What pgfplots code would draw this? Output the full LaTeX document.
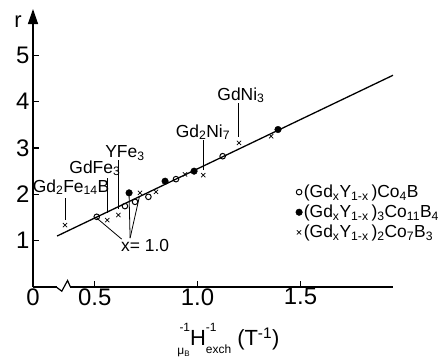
\documentclass[border=0pt]{standalone}
\usepackage{fontspec}
\setmainfont{Liberation Sans}
\usepackage{pgfplots}
\pgfplotsset{compat=1.18}
\usetikzlibrary{arrows.meta}
\newcommand\lbl{\fontsize{17.5}{19}\selectfont}
\newcommand\sm{\fontsize{12}{13}\selectfont}
\begin{document}
\begin{tikzpicture}
\begin{axis}[
  scale only axis, width=360bp, height=278bp,
  xmin=0.2, xmax=1.95, ymin=0, ymax=6,
  axis x line=bottom, axis y line=left,
  x axis line style={-, line width=1.4pt},
  y axis line style={-{Triangle[width=10bp,length=15bp]}, line width=1.4pt},
  xtick={0.2,0.5,1.0,1.5}, xticklabels={0,0.5,1.0,1.5},
  ytick={1,2,3,4,5},
  tick align=inside, major tick length=6bp,
  tick style={line width=1.1pt, black},
  /pgf/number format/assume math mode=true,
  tick label style={font=\fontsize{24}{26}\selectfont},
  xticklabel style={yshift=2bp},
  clip=false,
  legend style={at={(axis cs:1.462,2.28)}, anchor=north west, draw=none, fill=none,
    font=\fontsize{17.5}{19}\selectfont, row sep=3bp,
    nodes={inner sep=1.5bp}},
  legend cell align=left,
  legend image code/.code={\draw[#1] plot coordinates {(0bp,0bp)};},
]
\addplot[black, line width=1.3pt, forget plot] coordinates {(0.317,1.10) (1.95,4.57)};
\addplot[only marks, mark=o, mark size=2.8bp, black, line width=1pt, fill=white] coordinates {
(0.510,1.515) (0.647,1.746) (0.696,1.838) (0.761,1.946) (0.895,2.328) (1.122,2.823)};
\addlegendentry{(Gd\textsubscript{x}Y\textsubscript{1-x}\,)Co\textsubscript{4}B}
\addplot[only marks, mark=*, mark size=3.3bp, black] coordinates {
(0.667,2.032) (0.842,2.284) (0.983,2.5) (1.391,3.399)};
\addlegendentry{(Gd\textsubscript{x}Y\textsubscript{1-x}\,)\textsubscript{3}Co\textsubscript{11}B\textsubscript{4}}
\addplot[only marks, mark=x, mark size=3bp, black, line width=0.7pt] coordinates {
(0.356,1.336) (0.561,1.444) (0.615,1.552) (0.720,2.032) (0.798,2.054) (0.939,2.429) (1.028,2.414) (1.201,3.110) (1.358,3.254)};
\addlegendentry{(Gd\textsubscript{x}Y\textsubscript{1-x}\,)\textsubscript{2}Co\textsubscript{7}B\textsubscript{3}}
% leader lines
\draw[line width=0.8pt] (axis cs:0.356,1.92) -- (axis cs:0.356,1.44);
\draw[line width=0.8pt] (axis cs:0.560,2.35) -- (axis cs:0.560,1.59);
\draw[line width=0.8pt] (axis cs:0.613,2.74) -- (axis cs:0.613,1.68);
\draw[line width=0.8pt] (axis cs:1.026,3.17) -- (axis cs:1.026,2.52);
\draw[line width=0.8pt] (axis cs:1.197,3.97) -- (axis cs:1.197,3.23);
\draw[line width=0.8pt] (axis cs:0.631,1.034) -- (axis cs:0.510,1.487);
\draw[line width=0.8pt] (axis cs:0.672,1.056) -- (axis cs:0.667,1.983);
\draw[line width=0.8pt] (axis cs:0.672,1.056) -- (axis cs:0.717,1.946);
% labels
\node[font=\lbl] at (axis cs:0.385,2.155) {Gd\textsubscript{2}Fe\textsubscript{14}B};
\node[font=\lbl] at (axis cs:0.501,2.565) {GdFe\textsubscript{3}};
\node[font=\lbl] at (axis cs:0.647,2.888) {YFe\textsubscript{3}};
\node[font=\lbl] at (axis cs:1.026,3.34) {Gd\textsubscript{2}Ni\textsubscript{7}};
\node[font=\lbl] at (axis cs:1.211,4.14) {GdNi\textsubscript{3}};
\node[font=\lbl] at (axis cs:0.745,0.905) {x= 1.0};
\node[font=\fontsize{22}{24}\selectfont] at (axis cs:0.127,5.73) {r};
\node[font=\fontsize{22}{24}\selectfont] at (axis cs:1.15,-1.14)
  {\raisebox{-0.75ex}{\sm μ\textsubscript{B}}\llap{\raisebox{1.25ex}{\sm -1}}H\rlap{\raisebox{1.25ex}{\sm -1}}\raisebox{-0.7ex}{\sm exch}\ (T\textsuperscript{-1})};
\coordinate (b0) at (axis cs:0.313,0);
\coordinate (b1) at (axis cs:0.340,-0.09);
\coordinate (b2) at (axis cs:0.368,0.14);
\coordinate (b3) at (axis cs:0.382,0);
\coordinate (w1) at (axis cs:0.315,-0.05);
\coordinate (w2) at (axis cs:0.380,0.05);
\end{axis}
\fill[white] (w1) rectangle (w2);
\draw[line width=1.2pt] (b0) -- (b1) -- (b2) -- (b3);
\pgfresetboundingbox
\path (current axis.south west) ++(-33bp,-77bp) rectangle ++(446bp,364bp);
\end{tikzpicture}
\end{document}
